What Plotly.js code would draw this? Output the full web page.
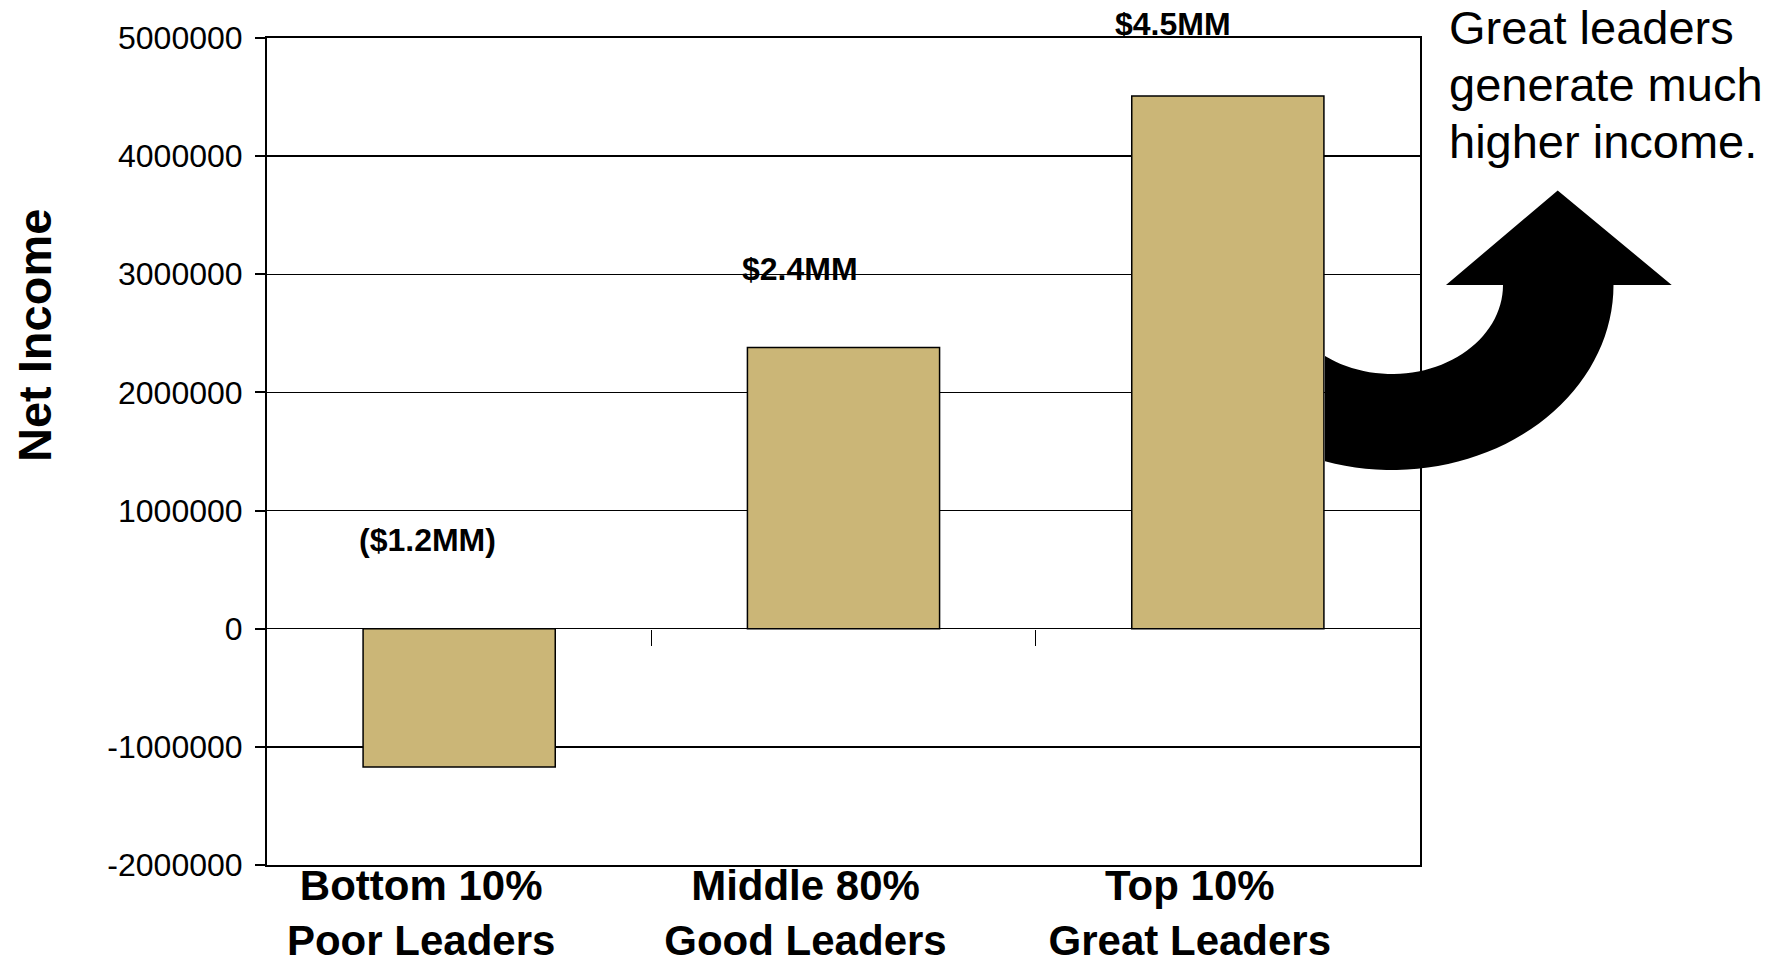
<!DOCTYPE html>
<html>
<head>
<meta charset="utf-8">
<script src="https://cdn.plot.ly/plotly-3.0.1.min.js"></script>
<style>html,body{margin:0;padding:0;background:#fff;}#chart{width:1788px;height:963px;}</style>
</head>
<body>
<div id="chart"></div>
<script>
// ---- data ----
var categories = ["Bottom 10%<br>Poor Leaders", "Middle 80%<br>Good Leaders", "Top 10%<br>Great Leaders"];
var netIncome = [-1170000, 2380000, 4510000];
var valueLabels = ["($1.2MM)", "$2.4MM", "$4.5MM"];
var yTickVals = [-2000000, -1000000, 0, 1000000, 2000000, 3000000, 4000000, 5000000];
var yTickText = ["-2000000", "-1000000", "0", "1000000", "2000000", "3000000", "4000000", "5000000"];
var yTitle = "Net Income";
var calloutLines = ["Great leaders", "generate much", "higher income."];

// ---- layout geometry ----
var W = 1788, H = 963;
var M = {l: 267, r: 368, t: 38, b: 98};
var PW = W - M.l - M.r, PH = H - M.t - M.b;
function px2paper(x, y) { return [(x - M.l) / PW, (H - M.b - y) / PH]; }

// curved arrow (decoration) built in pixel space
function arrowPath() {
  var cx = 1392, cy = 285, rxi = 111, ryi = 89, rxo = 221.5, ryo = 185, xl = 1325;
  var pts = [];
  var phiI = Math.acos((xl - cx) / rxi), phiO = Math.acos((xl - cx) / rxo);
  var n = 40, k, p;
  for (k = 0; k <= n; k++) { p = phiI * (1 - k / n); pts.push([cx + rxi * Math.cos(p), cy + ryi * Math.sin(p)]); }
  pts.push([1446, 285]); pts.push([1557.7, 190.4]); pts.push([1671.7, 285]);
  for (k = 0; k <= n; k++) { p = phiO * k / n; pts.push([cx + rxo * Math.cos(p), cy + ryo * Math.sin(p)]); }
  return pts.map(function (q, i) { var r = px2paper(q[0], q[1]); return (i ? 'L' : 'M') + r[0].toFixed(5) + ',' + r[1].toFixed(5); }).join(' ') + ' Z';
}

var FONT = '"Liberation Sans", Arial, Helvetica, sans-serif';

var bars = {
  type: 'bar', x: categories, y: netIncome, width: 0.5,
  marker: {color: '#CBB677', line: {color: '#000', width: 1.5}},
  hoverinfo: 'x+y', showlegend: false
};
var tickHolder = {type: 'scatter', x: [], y: [], xaxis: 'x2', yaxis: 'y', showlegend: false, hoverinfo: 'skip'};

var labelShiftX = [-32, -44, -55];
var labelShiftY = [227, 79, 72];
var annotations = valueLabels.map(function (t, i) {
  return {x: categories[i], y: netIncome[i], xref: 'x', yref: 'y', text: t, showarrow: false,
          xshift: labelShiftX[i], yshift: labelShiftY[i], yanchor: 'middle',
          font: {family: FONT, size: 32, color: '#000', weight: 'bold'}};
});
var tpos = px2paper(34, 336);
annotations.push({x: tpos[0], y: tpos[1], xref: 'paper', yref: 'paper', text: yTitle, textangle: -90,
  showarrow: false, xanchor: 'center', yanchor: 'middle', font: {family: FONT, size: 47, color: '#000', weight: 'bold'}});
calloutLines.forEach(function (t, i) {
  var c = px2paper(1448, 0 + 57 * i);
  annotations.push({x: c[0], y: c[1], xref: 'paper', yref: 'paper', text: t, align: 'left',
    showarrow: false, xanchor: 'left', yanchor: 'top', borderpad: 0, font: {family: FONT, size: 47, color: '#000'}});
});

var layout = {
  width: W, height: H, margin: {l: M.l, r: M.r, t: M.t, b: M.b, pad: 0},
  paper_bgcolor: '#fff', plot_bgcolor: '#fff', showlegend: false,
  font: {family: FONT, color: '#000'},
  xaxis: {type: 'category', range: [-0.5, 2.5], showline: true, linecolor: '#000', linewidth: 2, mirror: true,
          ticks: '', showgrid: false, zeroline: false, ticklabelshift: -38, ticklabelstandoff: -17,
          tickfont: {family: FONT, size: 42, color: '#000', weight: 'bold'}},
  xaxis2: {overlaying: 'x', anchor: 'free', position: 2 / 7, range: [-0.5, 2.5], tickvals: [0.5, 1.5],
           ticks: 'outside', ticklen: 16, tickwidth: 1.5, tickcolor: '#000', showticklabels: false,
           showgrid: false, zeroline: false, showline: false},
  yaxis: {range: [-2000000, 5000000], tickvals: yTickVals, ticktext: yTickText, ticks: 'outside', ticklen: 10,
          tickwidth: 2, tickcolor: '#000', showline: true, linecolor: '#000', linewidth: 2, mirror: true,
          showgrid: true, gridcolor: '#000', gridwidth: 1.5, zeroline: true, zerolinecolor: '#000', zerolinewidth: 1.5,
          ticklabelstandoff: 6, tickfont: {family: FONT, size: 32, color: '#000'}},
  annotations: annotations,
  shapes: [{type: 'path', xref: 'paper', yref: 'paper', path: arrowPath(), fillcolor: '#000', line: {width: 0}, layer: 'above'}]
};

Plotly.newPlot('chart', [bars, tickHolder], layout, {displayModeBar: false, staticPlot: true});
</script>
</body>
</html>
